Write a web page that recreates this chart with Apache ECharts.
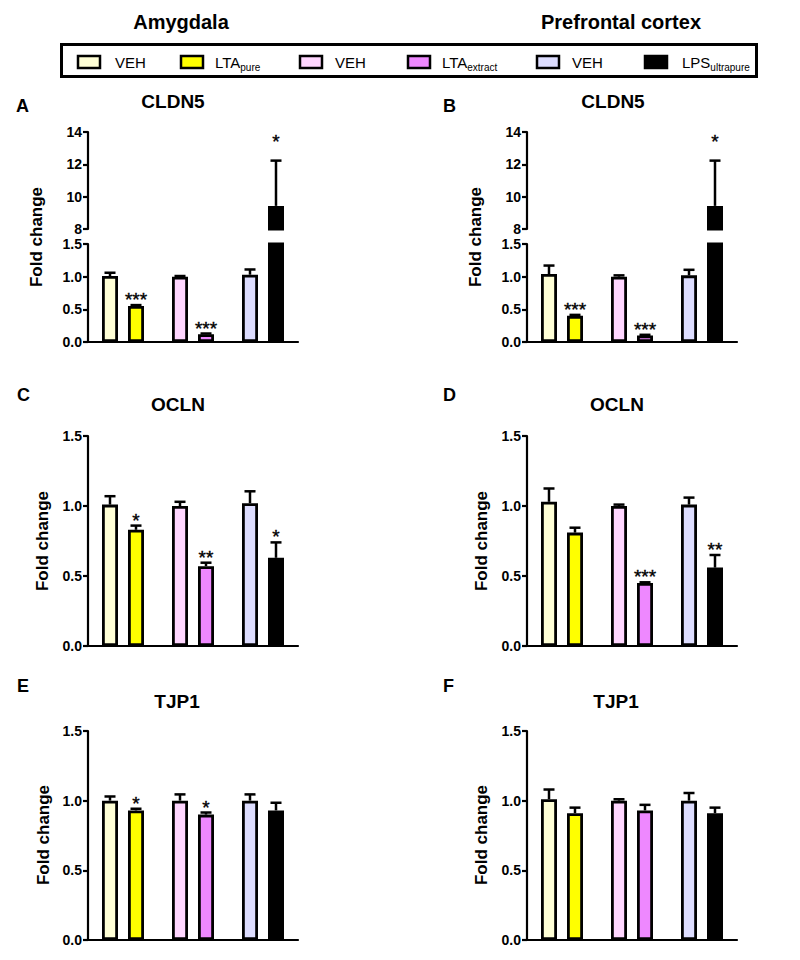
<!DOCTYPE html>
<html><head><meta charset="utf-8">
<script src="https://cdn.jsdelivr.net/npm/echarts@6/dist/echarts.min.js"></script>
<style>html,body{margin:0;padding:0;background:#fff}#c{width:800px;height:960px}</style>
</head><body><div id="c"></div>
<script>
// ---------- DATA ----------
const groups = ['LTA pure', 'LTA extract', 'LPS ultrapure'];
const vehColors = ['#FFFFD6', '#FFD6FF', '#DDDDFF'];
const trtColors = ['#FFFF00', '#EE88FF', '#000000'];
const legendLabels = ['VEH', 'LTA{s|pure}', 'VEH', 'LTA{s|extract}', 'VEH', 'LPS{s|ultrapure}'];
const legendColors = ['#FFFFD6', '#FFFF00', '#FFD6FF', '#EE88FF', '#DDDDFF', '#000000'];
const regionTitles = ['Amygdala', 'Prefrontal cortex'];
const geneTitles = ['CLDN5', 'CLDN5', 'OCLN', 'OCLN', 'TJP1', 'TJP1'];
const panelLetters = ['A', 'B', 'C', 'D', 'E', 'F'];
const yName = 'Fold change';
const brokenTicksUpper = [8, 14, 2];   // min, max, interval
const ticksLower = [0, 1.5, 0.5];

// Panel A: Amygdala CLDN5
const aVeh = [1.01, 1.00, 1.03];
const aVehErr = [0.05, 0.01, 0.08];
const aTrt = [0.55, 0.12, 9.43];
const aTrtErr = [0.015, 0.01, 2.8];
const aStars = ['***', '***', '*'];
// Panel B: Prefrontal cortex CLDN5
const bVeh = [1.04, 1.00, 1.02];
const bVehErr = [0.13, 0.02, 0.085];
const bTrt = [0.40, 0.10, 9.43];
const bTrtErr = [0.015, 0.01, 2.8];
const bStars = ['***', '***', '*'];
// Panel C: Amygdala OCLN
const cVeh = [1.01, 1.00, 1.02];
const cVehErr = [0.06, 0.03, 0.085];
const cTrt = [0.83, 0.57, 0.63];
const cTrtErr = [0.03, 0.025, 0.11];
const cStars = ['*', '**', '*'];
// Panel D: Prefrontal cortex OCLN
const dVeh = [1.03, 1.00, 1.01];
const dVehErr = [0.095, 0.01, 0.05];
const dTrt = [0.81, 0.45, 0.56];
const dTrtErr = [0.035, 0.005, 0.09];
const dStars = ['', '***', '**'];
// Panel E: Amygdala TJP1
const eVeh = [1.00, 1.00, 1.00];
const eVehErr = [0.03, 0.045, 0.045];
const eTrt = [0.93, 0.90, 0.93];
const eTrtErr = [0.012, 0.015, 0.055];
const eStars = ['*', '*', ''];
// Panel F: Prefrontal cortex TJP1
const fVeh = [1.01, 1.00, 1.00];
const fVehErr = [0.07, 0.01, 0.055];
const fTrt = [0.91, 0.93, 0.91];
const fTrtErr = [0.04, 0.04, 0.04];
const fStars = ['', '', ''];

// ---------- LAYOUT / STYLE ----------
const FONT = "'Liberation Sans', Arial, Helvetica, sans-serif";
const grid = [], xAxis = [], yAxis = [], series = [];
const fmt1 = v => v.toFixed(1);
const fmt0 = v => String(v);

function errRender(offset, errs, stars, starGap) {
  return function (params, api) {
    const cat = api.value(0), v = api.value(1);
    const e = errs[params.dataIndex];
    const cs = params.coordSys;
    const p0 = api.coord([cat, v]);
    const p1 = api.coord([cat, v + e]);
    const x = p0[0] + offset;
    const children = [];
    if (p1[1] >= cs.y - 0.5 && p0[1] <= cs.y + cs.height + 0.5) {
      const ls = { stroke: '#000', lineWidth: 2.5 };
      children.push({ type: 'line', shape: { x1: x, y1: p0[1], x2: x, y2: p1[1] }, style: ls });
      children.push({ type: 'line', shape: { x1: x - 5.5, y1: p1[1], x2: x + 5.5, y2: p1[1] }, style: ls });
      const s = stars ? stars[params.dataIndex] : '';
      if (s) {
        children.push({ type: 'text', x: x, y: p1[1] - starGap,
          style: { text: s, fill: '#000', font: '19px ' + FONT, align: 'center', verticalAlign: 'middle',
                   textAlign: 'center', textVerticalAlign: 'middle', stroke: '#000', lineWidth: 0.4 } });
      }
    }
    return { type: 'group', children };
  };
}

function addGrid(left, top, height, ticks, fmt, showX, d, starGap) {
  const gi = grid.length;
  grid.push({ left, top, width: 210, height });
  xAxis.push({ type: 'category', gridIndex: gi, data: groups, show: showX,
    axisLine: { show: true, lineStyle: { color: '#000', width: 2.2 } },
    axisTick: { show: false }, axisLabel: { show: false }, splitLine: { show: false } });
  yAxis.push({ type: 'value', gridIndex: gi, min: ticks[0], max: ticks[1], interval: ticks[2],
    axisLine: { show: true, lineStyle: { color: '#000', width: 2.2 } },
    axisTick: { show: true, length: 5, lineStyle: { color: '#000', width: 2.2 } },
    axisLabel: { color: '#000', fontWeight: 'bold', fontSize: 14, lineHeight: 13, fontFamily: FONT, margin: 6, formatter: fmt },
    splitLine: { show: false } });
  [[d.veh, d.vehErr, vehColors, -13, null], [d.trt, d.trtErr, trtColors, 13, d.stars]].forEach(([vals, errs, cols, off, stars]) => {
    series.push({ type: 'bar', xAxisIndex: gi, yAxisIndex: gi, barWidth: 16, barGap: '62.5%',
      data: vals.map((v, i) => ({ value: v, itemStyle: { color: cols[i] } })),
      itemStyle: { borderColor: '#000', borderWidth: 2.8 }, silent: true, animation: false });
    series.push({ type: 'custom', xAxisIndex: gi, yAxisIndex: gi, z: 5, silent: true, animation: false,
      data: vals.map((v, i) => [i, v]), renderItem: errRender(off, errs, stars, starGap) });
  });
}

const pA = { veh: aVeh, vehErr: aVehErr, trt: aTrt, trtErr: aTrtErr, stars: aStars };
const pB = { veh: bVeh, vehErr: bVehErr, trt: bTrt, trtErr: bTrtErr, stars: bStars };
const pC = { veh: cVeh, vehErr: cVehErr, trt: cTrt, trtErr: cTrtErr, stars: cStars };
const pD = { veh: dVeh, vehErr: dVehErr, trt: dTrt, trtErr: dTrtErr, stars: dStars };
const pE = { veh: eVeh, vehErr: eVehErr, trt: eTrt, trtErr: eTrtErr, stars: eStars };
const pF = { veh: fVeh, vehErr: fVehErr, trt: fTrt, trtErr: fTrtErr, stars: fStars };

addGrid(88, 132, 97, brokenTicksUpper, fmt0, false, pA, 19);
addGrid(88, 244, 98, ticksLower, fmt1, true, pA, 5.5);
addGrid(527, 132, 97, brokenTicksUpper, fmt0, false, pB, 19);
addGrid(527, 244, 98, ticksLower, fmt1, true, pB, 5.5);
addGrid(88, 436, 210, ticksLower, fmt1, true, pC, 5.5);
addGrid(527, 436, 210, ticksLower, fmt1, true, pD, 5.5);
addGrid(88, 731, 209, ticksLower, fmt1, true, pE, 5.5);
addGrid(527, 731, 209, ticksLower, fmt1, true, pF, 5.5);

// ---------- GRAPHIC TEXT ----------
const graphic = [];
function txt(x, y, text, font, align, rotation) {
  graphic.push({ type: 'text', x, y, rotation: rotation || 0, z: 10,
    style: { text, font, fill: '#000', align: align || 'center', verticalAlign: 'middle',
             textAlign: align || 'center', textVerticalAlign: 'middle' } });
}
txt(181, 22, regionTitles[0], 'bold 20px ' + FONT);
txt(621, 22, regionTitles[1], 'bold 20px ' + FONT);

// legend box
graphic.push({ type: 'rect', z: 9, shape: { x: 61.5, y: 44.5, width: 695, height: 32 },
  style: { fill: '#fff', stroke: '#000', lineWidth: 3 } });
const swX = [78, 181, 300, 408, 537, 645];
const lbX = [115, 215, 335, 442, 572, 682];
legendLabels.forEach((lab, i) => {
  graphic.push({ type: 'rect', z: 10, shape: { x: swX[i], y: 56, width: 22, height: 12 },
    style: { fill: legendColors[i], stroke: '#000', lineWidth: 2.5 } });
  graphic.push({ type: 'text', z: 10, x: lbX[i], y: 62,
    style: { text: lab, fill: '#000', align: 'left', verticalAlign: 'middle', textAlign: 'left', textVerticalAlign: 'middle',
      font: '15px ' + FONT,
      rich: { s: { font: '10px ' + FONT, fill: '#000', lineHeight: 8, verticalAlign: 'bottom' } },
      lineHeight: 20 } });
});

// panel letters, gene titles, y names
const letterPos = [[16, 106], [443, 106], [17, 395], [443, 395], [17, 686], [443, 686]];
const titlePos = [[173, 101], [613, 101], [178, 404], [617, 404], [177, 701], [616, 701]];
const yNamePos = [[36, 237], [475, 237], [42, 541], [481, 541], [43, 835], [481, 835]];
panelLetters.forEach((l, i) => {
  txt(letterPos[i][0], letterPos[i][1], l, 'bold 18px ' + FONT, 'left');
  txt(titlePos[i][0], titlePos[i][1], geneTitles[i], 'bold 19px ' + FONT);
  txt(yNamePos[i][0], yNamePos[i][1], yName, 'bold 17px ' + FONT, 'center', Math.PI / 2);
});

const chart = echarts.init(document.getElementById('c'), null, { renderer: 'svg' });
chart.setOption({ backgroundColor: '#fff', animation: false, grid, xAxis, yAxis, series, graphic });
</script></body></html>
